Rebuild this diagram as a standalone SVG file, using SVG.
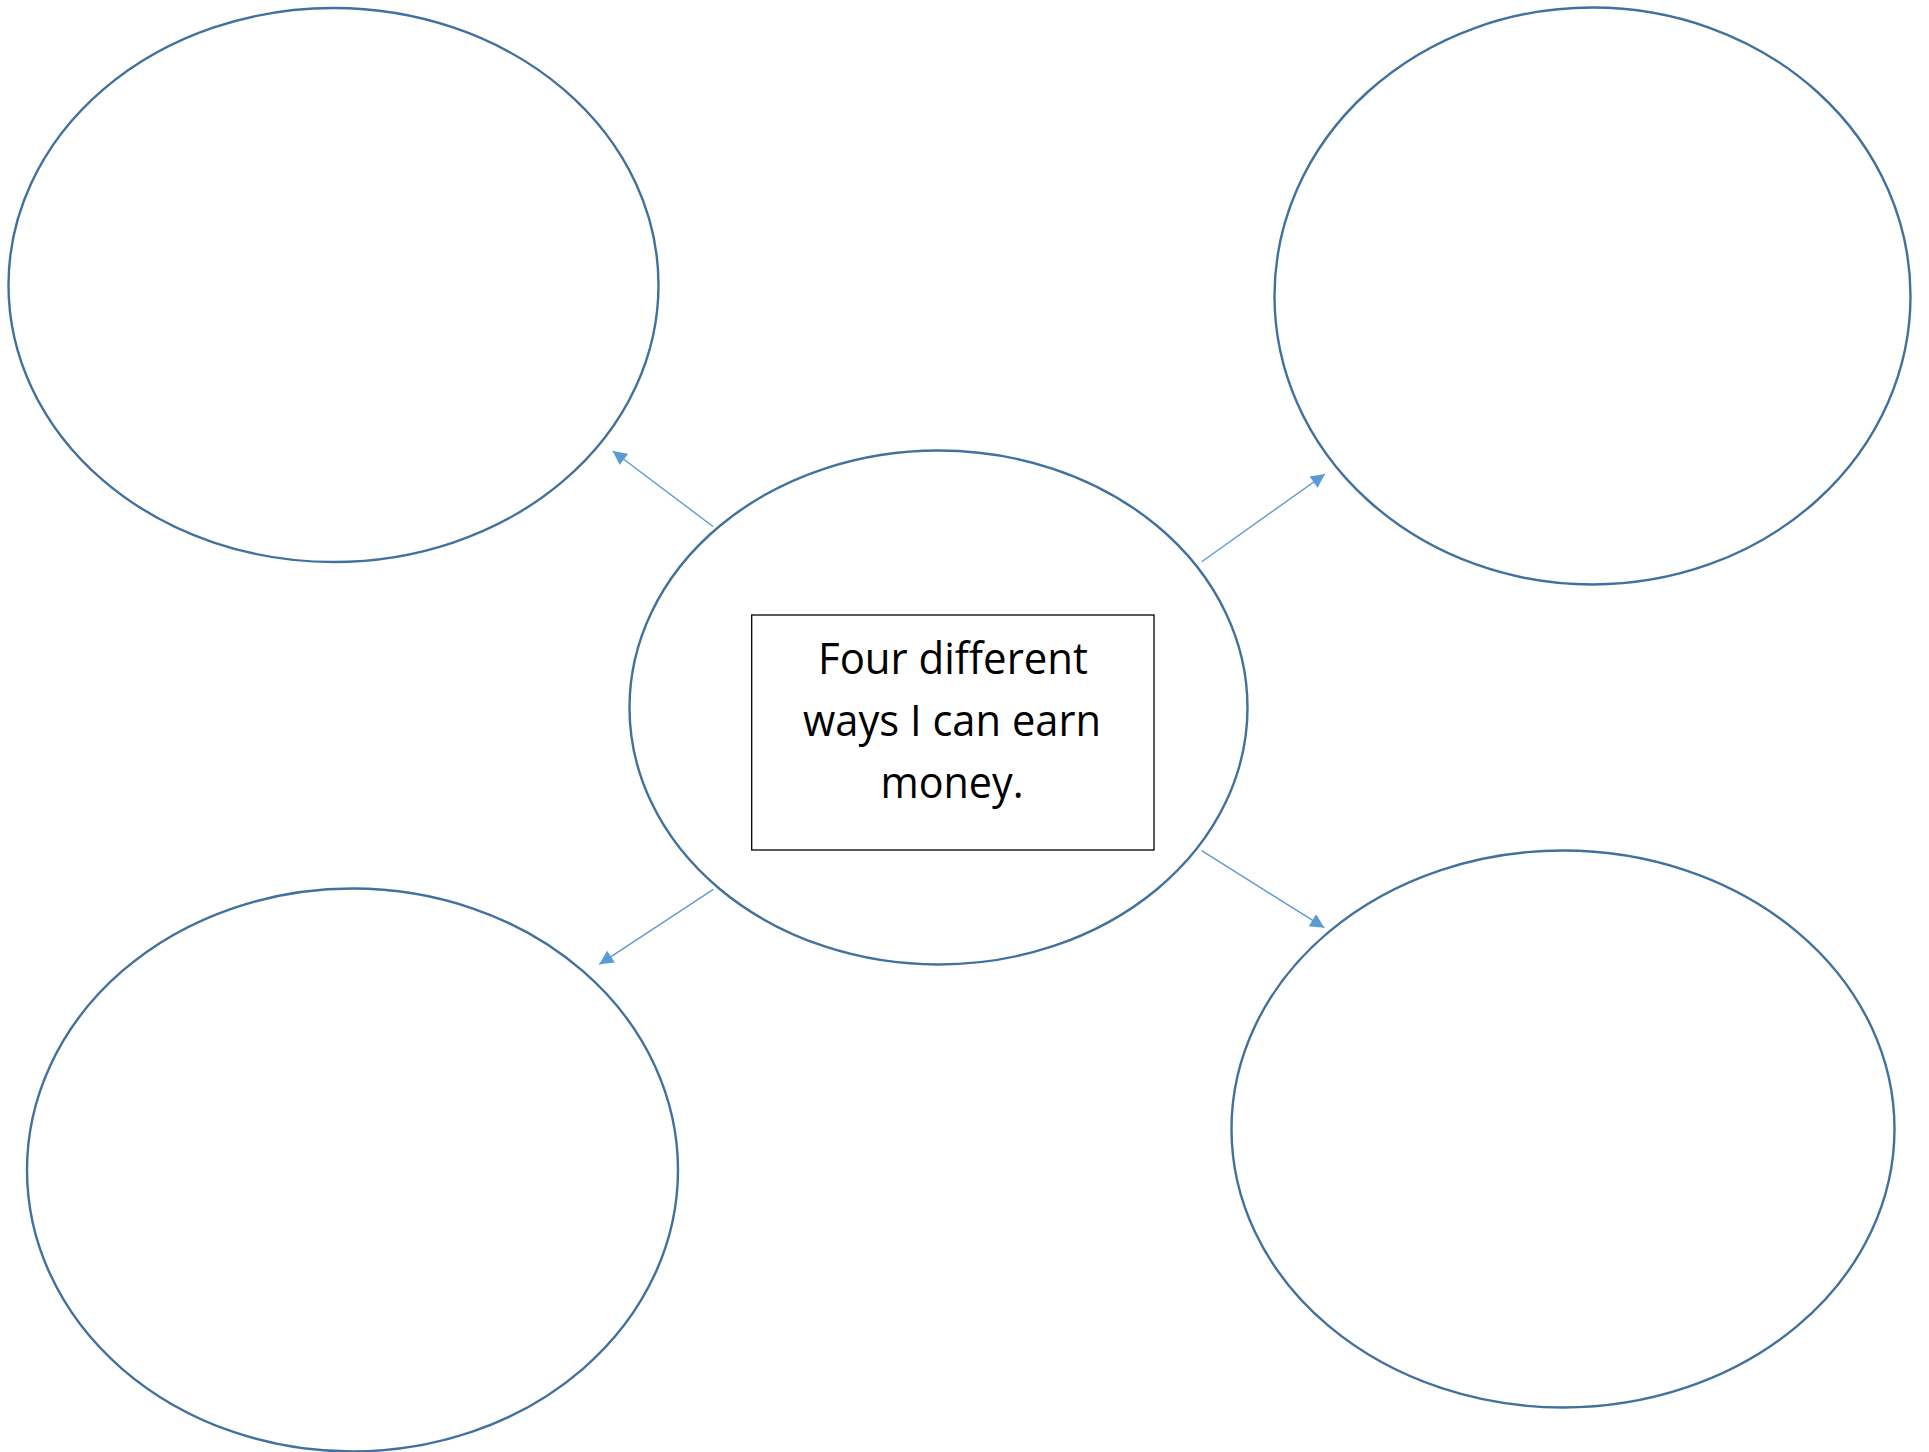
<svg xmlns="http://www.w3.org/2000/svg" width="1929" height="1452" viewBox="0 0 1929 1452">
<style>
.node{fill:#FFFFFF;stroke:#41719C;stroke-width:2.4}
.box{fill:#FFFFFF;stroke:#000000;stroke-width:1.3}
.conn{stroke:#5B9BD5;stroke-width:1.4;fill:none}
.lbl{font-family:"Open Sans","Noto Sans","Liberation Sans",sans-serif;font-size:43px;fill:#000000;text-anchor:middle}
</style>
<defs>
<marker id="ah" viewBox="0 0 10 10" refX="10" refY="5" markerWidth="17" markerHeight="14" markerUnits="userSpaceOnUse" orient="auto">
<path d="M0,0 L10,5 L0,10 z" fill="#5B9BD5"/>
</marker>
</defs>
<rect width="1929" height="1452" fill="#FFFFFF"/>
<g id="ellipse-top-left"><ellipse class="node" cx="333.5" cy="285" rx="325" ry="277"/></g>
<g id="ellipse-top-right"><ellipse class="node" cx="1592.5" cy="296" rx="318" ry="288.5"/></g>
<g id="ellipse-bottom-left"><ellipse class="node" cx="352.5" cy="1170" rx="325.5" ry="281.5"/></g>
<g id="ellipse-bottom-right"><ellipse class="node" cx="1563" cy="1129" rx="331.5" ry="278.5"/></g>
<g id="ellipse-center"><ellipse class="node" cx="938.5" cy="707.5" rx="309" ry="257"/></g>
<g id="center-box">
<rect class="box" x="751.7" y="615" width="402.3" height="235"/>
<text class="lbl" x="953" y="674" textLength="270" lengthAdjust="spacingAndGlyphs">Four different</text>
<text class="lbl" x="952" y="736" textLength="298" lengthAdjust="spacingAndGlyphs">ways I can earn</text>
<text class="lbl" x="952" y="798" textLength="143" lengthAdjust="spacingAndGlyphs">money.</text>
</g>
<g id="connectors">
<line class="conn" x1="713.3" y1="526.7" x2="612.7" y2="451" marker-end="url(#ah)"/>
<line class="conn" x1="1201.7" y1="561.7" x2="1325" y2="474" marker-end="url(#ah)"/>
<line class="conn" x1="713.3" y1="889.3" x2="599.3" y2="964.3" marker-end="url(#ah)"/>
<line class="conn" x1="1201.7" y1="850.7" x2="1324.3" y2="927.7" marker-end="url(#ah)"/>
</g>
</svg>
